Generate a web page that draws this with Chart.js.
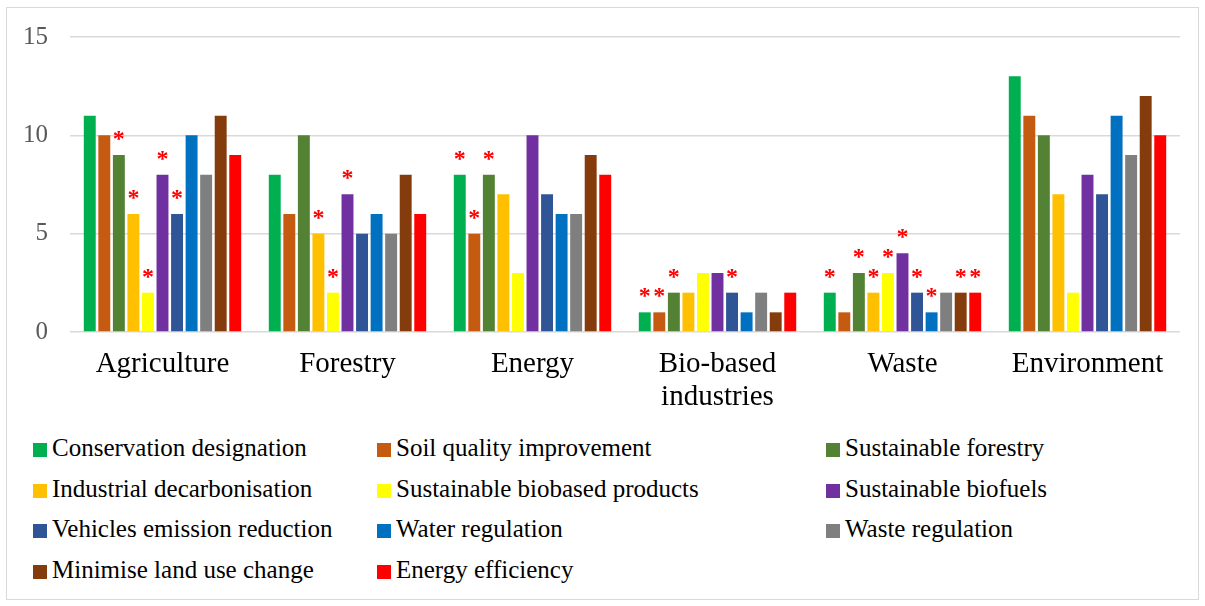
<!DOCTYPE html>
<html>
<head>
<meta charset="utf-8">
<script src="https://cdn.jsdelivr.net/npm/chart.js@4.4.1/dist/chart.umd.min.js"></script>
<style>
  body { margin: 0; background: #fff; width: 1205px; height: 606px; overflow: hidden; position: relative; }
  #frame { position: absolute; left: 6px; top: 7px; width: 1191px; height: 591px; border: 1px solid #d9d9d9; }
  #wrap { position: absolute; left: 0; top: 0; width: 1205px; height: 420px; }
  #legend { position: absolute; left: 33px; top: 428px; display: grid;
    grid-template-columns: 344px 449px auto;
    font-family: "Liberation Serif", "Times New Roman", "DejaVu Serif", serif;
    font-size: 25px; line-height: 40.5px; color: #000; }
  #legend span.box { display: inline-block; width: 14px; height: 14px; margin-right: 5px; vertical-align: -1px; }
</style>
</head>
<body>
<div id="frame"></div>
<div id="wrap"><canvas id="chart" width="1205" height="420"></canvas></div>
<div id="legend"></div>
<script>
var categories = ['Agriculture', 'Forestry', 'Energy', ['Bio-based', 'industries'], 'Waste', 'Environment'];
var yTicks = [0, 5, 10, 15];

var conservation = [11, 8, 8, 1, 2, 13];
var soilQuality  = [10, 6, 5, 1, 1, 11];
var forestry     = [9, 10, 8, 2, 3, 10];
var industrial   = [6, 5, 7, 2, 2, 7];
var biobased     = [2, 2, 3, 3, 3, 2];
var biofuels     = [8, 7, 10, 3, 4, 8];
var vehicles     = [6, 5, 7, 2, 2, 7];
var water        = [10, 6, 6, 1, 1, 11];
var wasteReg     = [8, 5, 6, 2, 2, 9];
var landUse      = [11, 8, 9, 1, 2, 12];
var energyEff    = [9, 6, 8, 2, 2, 10];

// 1 = red asterisk over the bar
var conservationStar = [0, 0, 1, 1, 1, 0];
var soilQualityStar  = [0, 0, 1, 1, 0, 0];
var forestryStar     = [1, 0, 1, 1, 1, 0];
var industrialStar   = [1, 1, 0, 0, 1, 0];
var biobasedStar     = [1, 1, 0, 0, 1, 0];
var biofuelsStar     = [1, 1, 0, 0, 1, 0];
var vehiclesStar     = [1, 0, 0, 1, 1, 0];
var waterStar        = [0, 0, 0, 0, 1, 0];
var wasteRegStar     = [0, 0, 0, 0, 0, 0];
var landUseStar      = [0, 0, 0, 0, 1, 0];
var energyEffStar    = [0, 0, 0, 0, 1, 0];

var series = [
  {label: 'Conservation designation', data: conservation, stars: conservationStar, color: '#00B050'},
  {label: 'Soil quality improvement', data: soilQuality, stars: soilQualityStar, color: '#C55A11'},
  {label: 'Sustainable forestry', data: forestry, stars: forestryStar, color: '#548235'},
  {label: 'Industrial decarbonisation', data: industrial, stars: industrialStar, color: '#FFC000'},
  {label: 'Sustainable biobased products', data: biobased, stars: biobasedStar, color: '#FFFF00'},
  {label: 'Sustainable biofuels', data: biofuels, stars: biofuelsStar, color: '#7030A0'},
  {label: 'Vehicles emission reduction', data: vehicles, stars: vehiclesStar, color: '#2F5597'},
  {label: 'Water regulation', data: water, stars: waterStar, color: '#0070C0'},
  {label: 'Waste regulation', data: wasteReg, stars: wasteRegStar, color: '#7F7F7F'},
  {label: 'Minimise land use change', data: landUse, stars: landUseStar, color: '#843C0C'},
  {label: 'Energy efficiency', data: energyEff, stars: energyEffStar, color: '#FF0000'}
];

var serif = '"Liberation Serif", "Times New Roman", "DejaVu Serif", serif';

var starPlugin = {
  id: 'stars',
  afterDatasetsDraw: function(chart) {
    var ctx = chart.ctx;
    ctx.save();
    ctx.fillStyle = '#FF0000';
    ctx.font = 'bold 24px ' + serif;
    ctx.textAlign = 'center';
    ctx.textBaseline = 'alphabetic';
    chart.data.datasets.forEach(function(ds, i) {
      var meta = chart.getDatasetMeta(i);
      meta.data.forEach(function(bar, j) {
        if (ds.stars[j]) ctx.fillText('*', bar.x, bar.y - 9);
      });
    });
    ctx.restore();
  }
};

var chart = new Chart(document.getElementById('chart'), {
  type: 'bar',
  data: {
    labels: categories,
    datasets: series.map(function(s) {
      return { label: s.label, data: s.data, stars: s.stars, backgroundColor: s.color,
               categoryPercentage: 0.865, barPercentage: 0.82 };
    })
  },
  options: {
    responsive: false,
    animation: false,
    devicePixelRatio: 1,
    layout: { padding: { top: 36, right: 25, left: 0, bottom: 0 } },
    plugins: { legend: { display: false }, tooltip: { enabled: false } },
    scales: {
      x: {
        grid: { display: false, drawTicks: false },
        border: { display: false },
        ticks: { color: '#000', font: { family: serif, size: 29, lineHeight: 1.14 }, padding: 16, maxRotation: 0, autoSkip: false },
        afterFit: function(s) { s.height = 88; }
      },
      y: {
        min: 0, max: 15,
        afterBuildTicks: function(s) { s.ticks = yTicks.map(function(v) { return {value: v}; }); },
        grid: { color: '#d9d9d9', lineWidth: 1.5, drawTicks: false },
        border: { display: false },
        ticks: { color: '#595959', font: { family: serif, size: 25 }, padding: 22 },
        afterFit: function(s) { s.width = 70; }
      }
    }
  },
  plugins: [starPlugin]
});

var legend = document.getElementById('legend');
series.forEach(function(s) {
  var d = document.createElement('div');
  var b = document.createElement('span');
  b.className = 'box';
  b.style.background = s.color;
  d.appendChild(b);
  d.appendChild(document.createTextNode(s.label));
  legend.appendChild(d);
});
</script>
</body>
</html>
